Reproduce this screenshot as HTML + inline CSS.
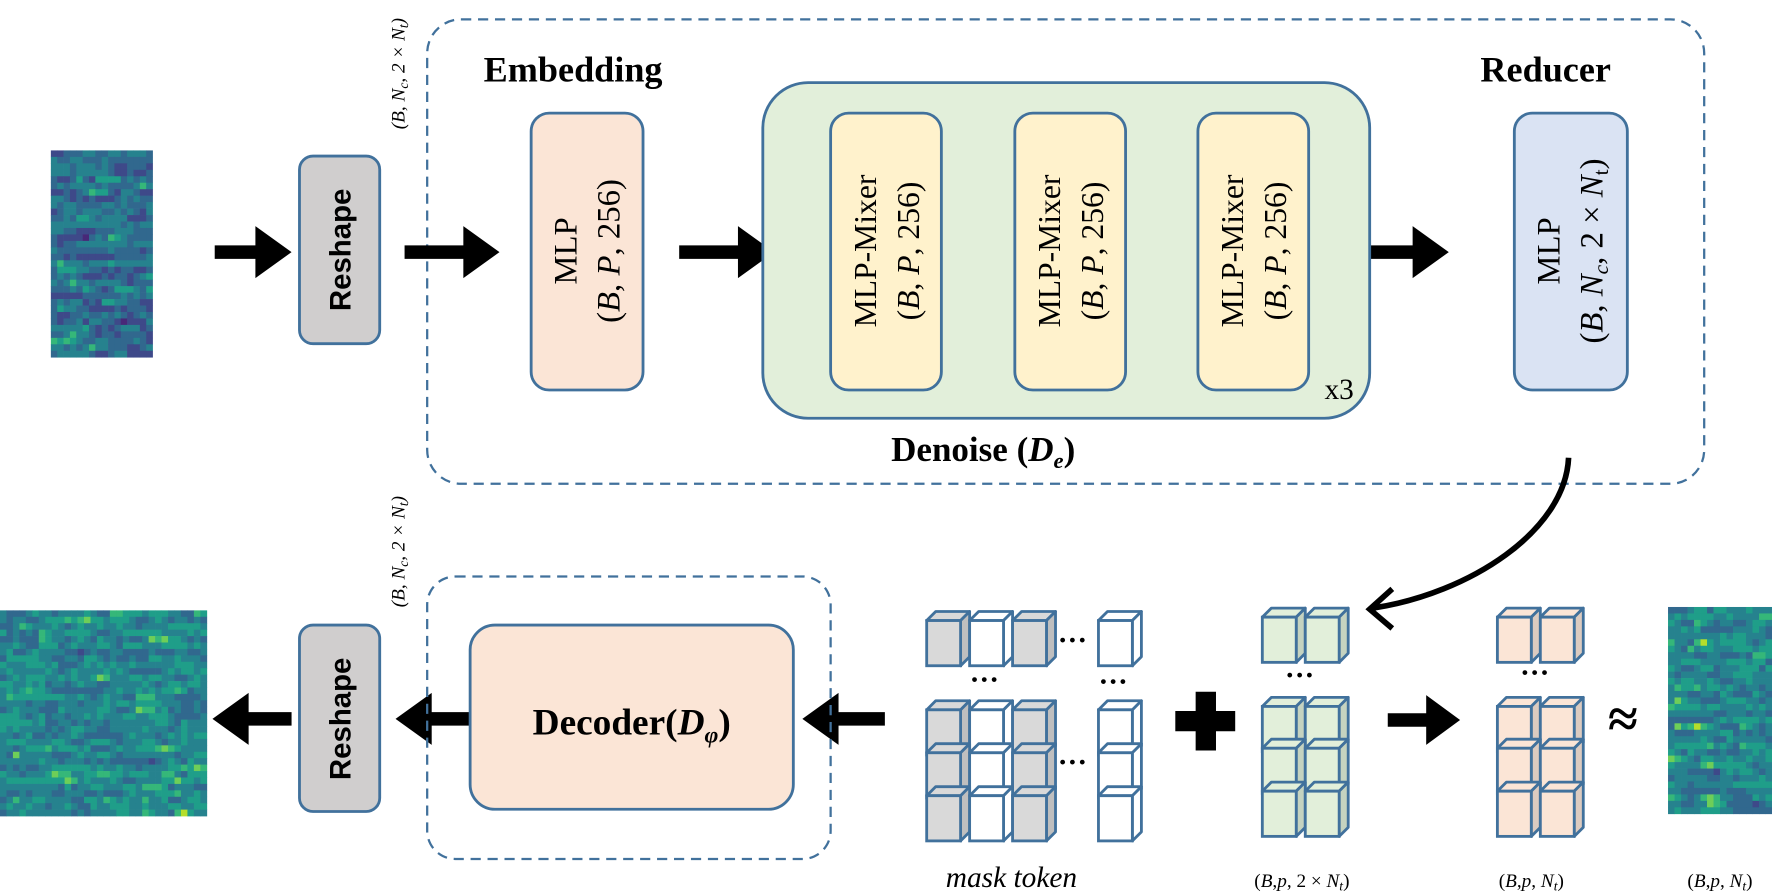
<!DOCTYPE html>
<html><head><meta charset="utf-8"><style>
html,body{margin:0;padding:0;background:#fff;}
svg{display:block}
.ser{font-family:"Liberation Serif",serif}
</style></head><body>
<svg id="s" width="1772" height="893" viewBox="0 0 1568 790" xmlns="http://www.w3.org/2000/svg">
<g id="hm"></g>
<rect x="378" y="17" width="1130" height="411" rx="30" fill="none" stroke="#41719c" stroke-width="2" stroke-dasharray="9,6"/>
<g fill="#000">
<path d="M190,217 h36 v-17 l32,23 l-32,23 v-17 h-36z"/>
<path d="M358,217 h52 v-17 l32,23 l-32,23 v-17 h-52z"/>
<path d="M601,217 h52 v-17 l32,23 l-32,23 v-17 h-52z"/>
<path d="M1198,217 h52 v-17 l32,23 l-32,23 v-17 h-52z"/>
<path d="M258,630 h-38 v-17 l-32,23 l32,23 v-17 h38z"/>
<path d="M420,630 h-38 v-17 l-32,23 l32,23 v-17 h38z"/>
<path d="M783,630 h-41 v-17 l-32,23 l32,23 v-17 h41z"/>
<path d="M1228,631 h34 v-16 l30,22 l-30,22 v-16 h-34z"/>
<path d="M1058,612 h18 v17 h17 v18 h-17 v17 h-18 v-17 h-18 v-18 h18z"/>
</g>
<rect x="265" y="138" width="71" height="166" rx="12" fill="#d0cece" stroke="#41719c" stroke-width="2.5"/>
<text transform="translate(310,221) rotate(-90)" text-anchor="middle" font-family="Liberation Sans,sans-serif" font-weight="bold" font-size="26">Reshape</text>
<text class="ser" transform="translate(358,65) rotate(-90)" text-anchor="middle" font-size="17" font-style="italic">(B, N<tspan font-size="12" dy="3">c</tspan><tspan dy="-3">, 2 × N</tspan><tspan font-size="12" dy="3">t</tspan><tspan dy="-3">)</tspan></text>
<text class="ser" x="428" y="72" font-size="32" font-weight="bold">Embedding</text>
<text class="ser" x="1310" y="72" font-size="32" font-weight="bold">Reducer</text>
<rect x="470" y="100" width="99" height="245" rx="16" fill="#fbe5d6" stroke="#41719c" stroke-width="2.5"/>
<text class="ser" transform="translate(510,222) rotate(-90)" text-anchor="middle" font-size="29">MLP</text>
<text class="ser" transform="translate(548,222) rotate(-90)" text-anchor="middle" font-size="29">(<tspan font-style="italic">B</tspan>, <tspan font-style="italic">P</tspan>, 256)</text>
<rect x="675" y="73" width="537" height="297" rx="40" fill="#e2efda" stroke="#41719c" stroke-width="2.5"/>
<g id="mix"></g>
<text class="ser" x="1172" y="353" font-size="26">x3</text>
<text class="ser" x="870" y="408" text-anchor="middle" font-size="31" font-weight="bold">Denoise (<tspan font-style="italic">D<tspan font-size="20" dy="6">e</tspan></tspan><tspan dy="-6">)</tspan></text>
<rect x="1340" y="100" width="100" height="245" rx="16" fill="#dae3f3" stroke="#41719c" stroke-width="2.5"/>
<text class="ser" transform="translate(1380,222) rotate(-90)" text-anchor="middle" font-size="29">MLP</text>
<text class="ser" transform="translate(1418,222) rotate(-90)" text-anchor="middle" font-size="29">(<tspan font-style="italic">B</tspan>, <tspan font-style="italic">N<tspan font-size="19" dy="5">c</tspan></tspan><tspan dy="-5">, 2 × </tspan><tspan font-style="italic">N</tspan><tspan font-size="19" dy="5">t</tspan><tspan dy="-5">)</tspan></text>
<path d="M1388,405 C1385,470 1300,525 1215,538" fill="none" stroke="#000" stroke-width="5"/>
<path d="M1232,521 L1212,539 L1232,556" fill="none" stroke="#000" stroke-width="5"/>
<rect x="265" y="553" width="71" height="165" rx="12" fill="#d0cece" stroke="#41719c" stroke-width="2.5"/>
<text transform="translate(310,636) rotate(-90)" text-anchor="middle" font-family="Liberation Sans,sans-serif" font-weight="bold" font-size="26">Reshape</text>
<text class="ser" transform="translate(358,488) rotate(-90)" text-anchor="middle" font-size="17" font-style="italic">(B, N<tspan font-size="12" dy="3">c</tspan><tspan dy="-3">, 2 × N</tspan><tspan font-size="12" dy="3">t</tspan><tspan dy="-3">)</tspan></text>
<rect x="378" y="510" width="357" height="250" rx="25" fill="none" stroke="#41719c" stroke-width="2" stroke-dasharray="9,6"/>
<rect x="416" y="553" width="286" height="163" rx="22" fill="#fbe5d6" stroke="#41719c" stroke-width="2.5"/>
<text class="ser" x="559" y="650" text-anchor="middle" font-size="33" font-weight="bold">Decoder(<tspan font-style="italic">D<tspan font-size="21" dy="7">φ</tspan></tspan><tspan dy="-7">)</tspan></text>
<g id="cubes"></g>
<g font-family="Liberation Serif,serif" font-size="26" font-weight="bold">
<text x="936" y="575">···</text><text x="858" y="610">···</text><text x="972" y="612">···</text>
<text x="936" y="683">···</text><text x="1137" y="606">···</text><text x="1345" y="604">···</text>
</g>
<text class="ser" x="1436" y="652" text-anchor="middle" font-size="48" font-weight="bold">≈</text>
<text class="ser" x="895" y="785" text-anchor="middle" font-size="26" font-style="italic">mask token</text>
<g class="ser" font-size="17" text-anchor="middle">
<text x="1152" y="785">(<tspan font-style="italic">B</tspan>,<tspan font-style="italic">p</tspan>, 2 × <tspan font-style="italic">N</tspan><tspan font-size="12" dy="3" font-style="italic">t</tspan><tspan dy="-3">)</tspan></text>
<text x="1355" y="785">(<tspan font-style="italic">B</tspan>,<tspan font-style="italic">p</tspan>, <tspan font-style="italic">N</tspan><tspan font-size="12" dy="3" font-style="italic">t</tspan><tspan dy="-3">)</tspan></text>
<text x="1522" y="785">(<tspan font-style="italic">B</tspan>,<tspan font-style="italic">p</tspan>, <tspan font-style="italic">N</tspan><tspan font-size="12" dy="3" font-style="italic">t</tspan><tspan dy="-3">)</tspan></text>
</g>
</svg>
<script>
var NS="http://www.w3.org/2000/svg";
function el(p,t,a){var e=document.createElementNS(NS,t);for(var k in a)e.setAttribute(k,a[k]);p.appendChild(e);return e;}
var vir=["#440154","#482878","#3e4989","#31688e","#26828e","#1f9e89","#35b779","#6ece58","#b5de2b","#fde725"];
var seed=7;function rnd(){seed=(seed*16807)%2147483647;return seed/2147483647;}
var hm=document.getElementById("hm");
function heat(x,y,w,h,cols,rows,base){var cw=w/cols,ch=h/rows;for(var i=0;i<rows;i++){var prev=base;for(var j=0;j<cols;j++){var r=rnd();var v=base+(r-0.5)*4;if(rnd()<0.04)v+=4;v=0.5*v+0.5*prev;prev=v;v=Math.max(0,Math.min(9,Math.round(v)));el(hm,"rect",{x:x+j*cw,y:y+i*ch,width:cw+0.3,height:ch+0.3,fill:vir[v]});}}}
heat(45,133,90,183,16,32,3);heat(0,540,183,182,32,32,4);heat(1476,537,92,183,16,32,4);
var mix=document.getElementById("mix");
[735,898,1060].forEach(function(x){el(mix,"rect",{x:x,y:100,width:98,height:245,rx:16,fill:"#fff2cc",stroke:"#41719c","stroke-width":2.5});
var t=el(mix,"text",{transform:"translate("+(x+40)+",222) rotate(-90)","text-anchor":"middle","font-size":28,"font-family":"Liberation Serif,serif"});t.textContent="MLP-Mixer";
var t2=el(mix,"text",{transform:"translate("+(x+78)+",222) rotate(-90)","text-anchor":"middle","font-size":28,"font-family":"Liberation Serif,serif"});t2.innerHTML='(<tspan font-style="italic">B</tspan>, <tspan font-style="italic">P</tspan>, 256)';});
var cg=document.getElementById("cubes");
function cube(x,y,f,side){var w=30,h=40,d=8;
el(cg,"path",{d:"M"+x+","+y+" l"+d+","+(-d)+" h"+w+" l"+(-d)+","+d+"z",fill:f,stroke:"#41719c","stroke-width":2.5,"stroke-linejoin":"round"});
el(cg,"path",{d:"M"+(x+w)+","+y+" l"+d+","+(-d)+" v"+h+" l"+(-d)+","+d+"z",fill:side,stroke:"#41719c","stroke-width":2.5,"stroke-linejoin":"round"});
el(cg,"rect",{x:x,y:y,width:w,height:h,fill:f,stroke:"#41719c","stroke-width":2.5});}
var G="#d9d9d9",GS="#bfbfbf",W="#fff";
[549,628,666,704].forEach(function(y){cube(820,y,G,GS);cube(858,y,W,W);cube(896,y,G,GS);cube(972,y,W,W);});
[546,625,662,700].forEach(function(y){cube(1117,y,"#e2efda","#c5d3c0");cube(1155,y,"#e2efda","#c5d3c0");cube(1325,y,"#fbe5d6","#dccbc0");cube(1363,y,"#fbe5d6","#dccbc0");});
</script>
</body></html>
